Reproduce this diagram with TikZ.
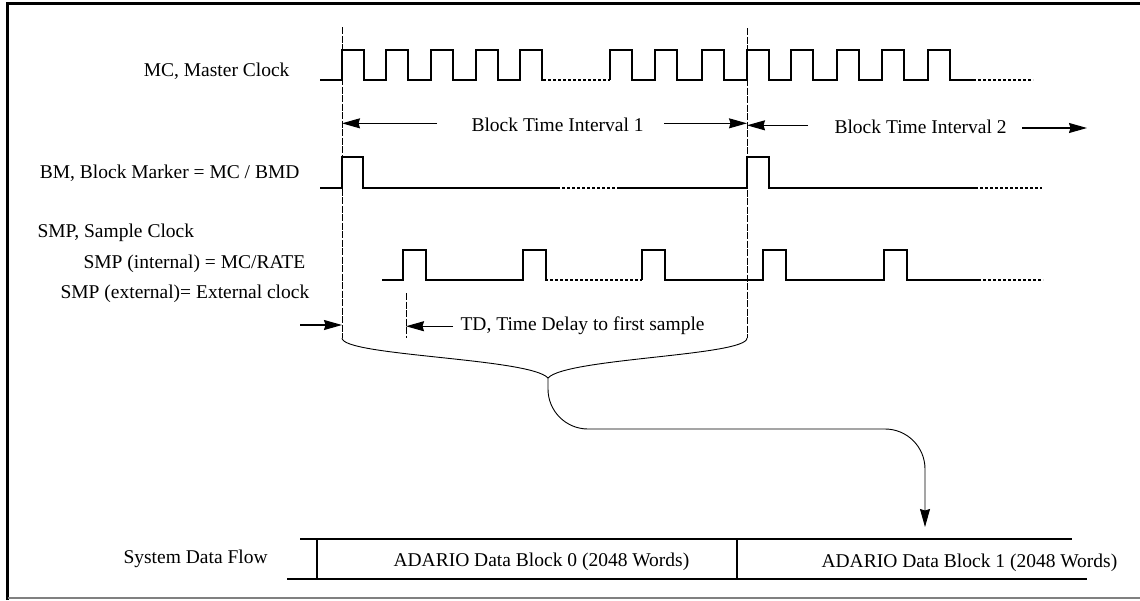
\documentclass[tikz,border=0pt]{standalone}
\usepackage{fontspec}
\setmainfont{Liberation Serif}
\usetikzlibrary{arrows.meta}
\begin{document}
\begin{tikzpicture}[x=1pt,y=-1pt,line width=1.1pt,font=\fontsize{19.5}{23}\selectfont,
    inner sep=0pt,
    wave/.style={line join=miter},
    contd/.style={dash pattern=on 3pt off 2pt},
    marker/.style={line width=0.8pt,dash pattern=on 7pt off 1.5pt},
    arr/.style={-{Stealth[length=18pt,width=10pt,inset=1.5pt]}}]
    \useasboundingbox (0,0) rectangle (1140,600);
    \draw[line width=3pt] (7.5,600) -- (7.5,3) -- (1140,3);
    \draw[gray,line width=1.5pt] (7.5,598) -- (1140,598);
    \coordinate (b0) at (342,27);
    \coordinate (b1) at (747,28);
    \coordinate (b0e) at (342,338);
    \coordinate (b1e) at (747,338);
    \coordinate (td) at (406,293);
    \coordinate (tde) at (406,338);
    \coordinate (cusp) at (548,378);
    \coordinate (turn) at (925,429);
    \coordinate (blk1) at (925,527);
    \coordinate (ext) at (300,325);
    \coordinate (bti2end) at (1087,128);
    \draw[marker] (b0) -- (b0e);
    \draw[marker] (b1) -- (b1e);
    \draw[marker] (td) -- (tde);
    \node[anchor=base east] (mc) at (290,76) {MC, Master Clock};
    \node[anchor=base east] (bm) at (300,178) {BM, Block Marker = MC / BMD};
    \node[anchor=base west] (smp) at (37,237) {SMP, Sample Clock};
    \node[anchor=base west] (smpi) at (83,268) {SMP (internal) = MC/RATE};
    \node[anchor=base west] (smpe) at (60,298) {SMP (external)= External clock};
    \draw[wave] (320,80) foreach \p in {342,386,431,476,520}{ -- (\p,80) -- (\p,50) -- ({\p+22},50) -- ({\p+22},80)} -- (543,80);
    \draw[contd] (543,80) -- (610,80);
    \draw[wave] (610,80) foreach \p in {610,655,702,747,791,837,882,928}{ -- (\p,80) -- (\p,50) -- ({\p+22},50) -- ({\p+22},80)} -- (973,80);
    \draw[contd] (973,80) -- (1033,80);
    \draw[wave] (320,188) -- (342,188) -- (342,157) -- (363,157) -- (363,188) -- (557,188);
    \draw[contd] (557,188) -- (618,188);
    \draw[wave] (618,188) -- (747,188) -- (747,157) -- (769,157) -- (769,188) -- (975,188);
    \draw[contd] (975,188) -- (1042,188);
    \draw[wave] (382,280) foreach \p in {403,523}{ -- (\p,280) -- (\p,250) -- ({\p+23},250) -- ({\p+23},280)} -- (545,280);
    \draw[contd] (545,280) -- (642,280);
    \draw[wave] (642,280) foreach \p in {642,763,884}{ -- (\p,280) -- (\p,250) -- ({\p+23},250) -- ({\p+23},280)} -- (978,280);
    \draw[contd] (978,280) -- (1043,280);
    \node[anchor=base west] (bti1) at (471,131) {Block Time Interval 1};
    \node[anchor=base west] (bti2) at (834,133) {Block Time Interval 2};
    \draw[arr] ([xshift=-34pt,yshift=1pt]bti1.west) -- ([yshift=1pt]bti1.west -| b0);
    \draw[arr] ([xshift=20pt,yshift=1pt]bti1.east) -- ([yshift=1pt]bti1.east -| b1);
    \draw[arr] ([xshift=-26pt,yshift=1pt]bti2.west) -- ([yshift=1pt]bti2.west -| b1);
    \draw[arr] ([xshift=15pt]bti2.east |- bti2end) -- (bti2end);
    \node[anchor=base west] (tdl) at (460,330) {TD, Time Delay to first sample};
    \draw[arr] ([xshift=-7pt,yshift=-1pt]tdl.west) -- ([yshift=-1pt]tdl.west -| td);
    \draw[arr] (ext) -- (ext -| b0);
    \draw[line width=0.9pt] (b0e) .. controls (342,356) and (530,358) .. (cusp) .. controls (566,358) and (747,356) .. (b1e);
    \draw[arr,line width=0.9pt,rounded corners=40pt] (cusp) |- (turn) -- (blk1);
    \node[anchor=base west] (sdf) at (123,563) {System Data Flow};
    \node[anchor=base west] (adb0) at (393,566) {ADARIO Data Block 0 (2048 Words)};
    \node[anchor=base west] (adb1) at (821,567) {ADARIO Data Block 1 (2048 Words)};
    \draw (300,539) -- (1072,539);
    \draw (287,579) -- (1087,579);
    \draw (317,539) -- (317,579);
    \draw (737,539) -- (737,579);
\end{tikzpicture}
\end{document}
